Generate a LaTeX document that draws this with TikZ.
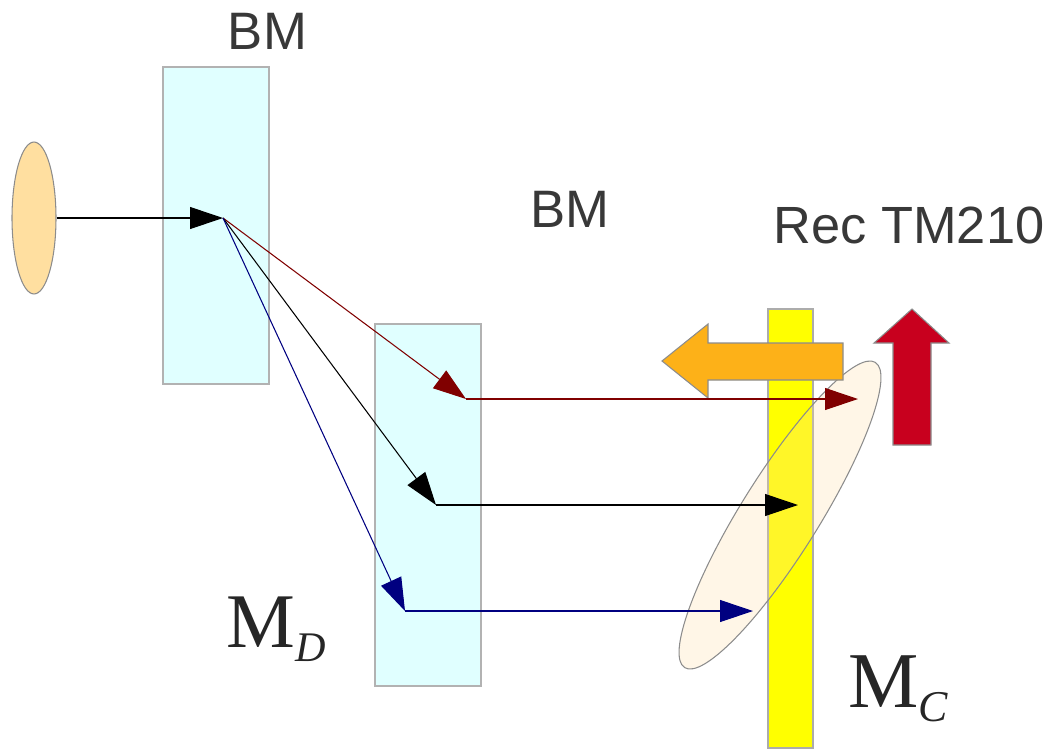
\documentclass[tikz,border=0pt]{standalone}
\usepackage{fontspec}
\setmainfont{Liberation Serif}
\setsansfont{Liberation Sans}
\usetikzlibrary{arrows.meta,shapes.geometric}
\definecolor{bmcyan}{RGB}{224,255,255}
\definecolor{srcorange}{RGB}{255,223,160}
\definecolor{lensbeige}{RGB}{255,220,160}
\definecolor{plateyellow}{RGB}{255,255,0}
\definecolor{shiftorange}{RGB}{253,177,24}
\definecolor{movered}{RGB}{200,0,30}
\definecolor{beamred}{RGB}{128,0,0}
\definecolor{beamblue}{RGB}{0,0,128}
\begin{document}
\begin{tikzpicture}[x=0.02cm,y=-0.02cm,
bm/.style={draw=gray!60, line width=0.8pt, fill=bmcyan, minimum width=2.12cm, inner sep=0pt},
beam/.style={-{Triangle[length=0.66cm,width=0.44cm]}, line width=0.6pt},
tag/.style={font=\sffamily\fontsize{30}{30}\selectfont, text=black!78, inner sep=0pt, anchor=base},
mlabel/.style={font=\fontsize{44}{44}\selectfont, text=black!85, inner sep=0pt, anchor=base west},
block/.style={draw=gray!90, line width=0.6pt}
]
\useasboundingbox (0,0) rectangle (1050,748);
% source and beam splitters
\node[ellipse, draw=gray!90, line width=0.6pt, fill=srcorange, minimum width=0.88cm, minimum height=3.04cm, inner sep=0pt] (src) at (34,218) {};
\node[bm, minimum height=6.34cm] (bm1) at (216,225.5) {};
\node[bm, minimum height=7.24cm] (bm2) at (428,505) {};
% receiver plate and lens
\node[draw=gray!65, line width=0.8pt, fill=plateyellow, minimum width=0.9cm, minimum height=8.78cm, inner sep=0pt] (rec) at (790.5,528.5) {};
\node[ellipse, draw=gray!90, line width=0.6pt, fill=lensbeige, fill opacity=0.25, minimum width=7.2cm, minimum height=1.56cm, rotate=58, inner sep=0pt] (lens) at (780,515) {};
% block arrows
\draw[block, fill=shiftorange] (843,343) -- (708,343) -- (708,324) -- (662,361) -- (708,398) -- (708,380) -- (843,380) -- cycle;
\draw[block, fill=movered] (893,445) -- (893,343) -- (874,343) -- (912,309) -- (949,343) -- (931,343) -- (931,445) -- cycle;
% labels
\node[tag] (bmtop) at (267.5,49) {BM};
\node[tag] (bmmid) at (570,227) {BM};
\node[tag, font=\sffamily\fontsize{29.8}{29.8}\selectfont] (rectm) at (909,243) {Rec TM210};
\node[mlabel] (md) at (226,647) {M\raisebox{-8.5pt}{\fontsize{24}{24}\selectfont\itshape D}};
\node[mlabel, font=\fontsize{45}{45}\selectfont] (mc) at (848,707) {M\raisebox{-8pt}{\fontsize{25}{25}\selectfont\itshape C}};
% beams
\coordinate (s1) at (223,218);
\draw[beam] (src) -- (s1);
\foreach \n/\c/\y/\xa/\xb in {r/beamred/399/466/858, k/black/505/436/798, b/beamblue/611/405/753} {
  \coordinate (\n1) at (\xa,\y);
  \coordinate (\n2) at (\xb,\y);
  \draw[beam, \c] (s1) -- (\n1);
  \draw[beam, \c] (\n1) -- (\n2);
}
\end{tikzpicture}
\end{document}
